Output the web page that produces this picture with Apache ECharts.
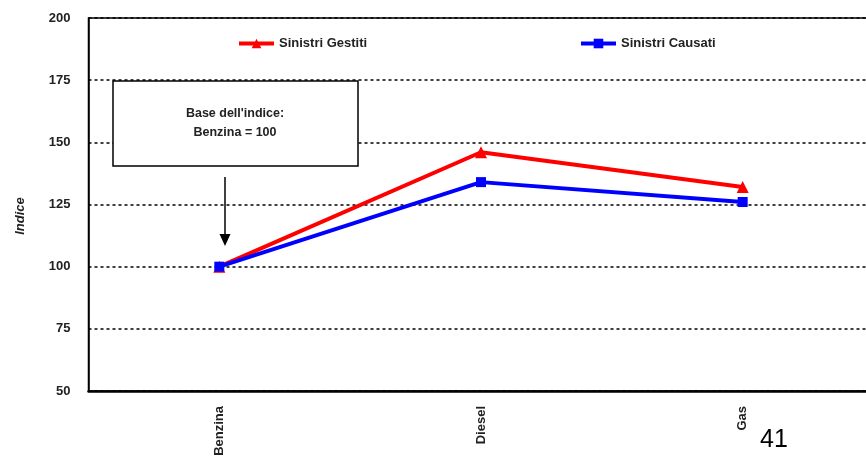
<!DOCTYPE html>
<html><head><meta charset="utf-8">
<script src="https://cdn.jsdelivr.net/npm/echarts@6/dist/echarts.min.js"></script>
<style>html,body{margin:0;padding:0;background:#fff}#c{width:866px;height:466px}</style>
</head><body><div id="c"></div>
<script>
const categories = ['Benzina', 'Diesel', 'Gas'];
const gestiti = [100, 146, 132];
const causati = [100, 134, 126];
const yTicks = [50, 75, 100, 125, 150, 175, 200];
const FONT = '"Liberation Sans", Arial, sans-serif';

const chart = echarts.init(document.getElementById('c'));
chart.setOption({
  animation: false,
  backgroundColor: '#fff',
  grid: {left: 88.5, top: 18, width: 785, height: 373, outerBoundsMode: 'none', containLabel: false,
         show: true, borderColor: '#000', borderWidth: 1.5, backgroundColor: 'transparent'},
  legend: [
    {data: ['Sinistri Gestiti'], left: 237, top: 37, padding: 0, itemWidth: 35, itemHeight: 12, itemGap: 4,
     lineStyle: {width: 4}, textStyle: {fontFamily: FONT, fontWeight: 'bold', fontSize: 13, color: '#222'}},
    {data: ['Sinistri Causati'], left: 579, top: 37, padding: 0, itemWidth: 35, itemHeight: 12, itemGap: 4,
     lineStyle: {width: 4}, textStyle: {fontFamily: FONT, fontWeight: 'bold', fontSize: 13, color: '#222'}}
  ],
  xAxis: {
    type: 'category', data: categories, boundaryGap: true,
    axisLine: {lineStyle: {color: '#000', width: 2.5}},
    axisTick: {show: false},
    axisLabel: {rotate: 90, margin: 15, fontFamily: FONT, fontWeight: 'bold', fontSize: 13, color: '#222'}
  },
  yAxis: {
    type: 'value', min: yTicks[0], max: yTicks[yTicks.length - 1], interval: 25,
    axisLine: {show: true, lineStyle: {color: '#000', width: 1.5}},
    axisTick: {show: false},
    axisLabel: {margin: 18, fontFamily: FONT, fontWeight: 'bold', fontSize: 13, color: '#222'},
    splitLine: {show: true, lineStyle: {color: '#000', width: 1.5, type: [3, 3]}}
  },
  series: [
    {name: 'Sinistri Gestiti', type: 'line', data: gestiti, symbol: 'triangle', symbolSize: 12,
     itemStyle: {color: '#ff0000'}, lineStyle: {color: '#ff0000', width: 4}, z: 3},
    {name: 'Sinistri Causati', type: 'line', data: causati, symbol: 'rect', symbolSize: 10,
     itemStyle: {color: '#0000ff'}, lineStyle: {color: '#0000ff', width: 4}, z: 4}
  ],
  graphic: [
    {type: 'rect', shape: {x: 113, y: 81, width: 245, height: 85}, style: {fill: '#fff', stroke: '#000', lineWidth: 1.5}, z: 10},
    {type: 'text', x: 235, y: 114, style: {text: "Base dell'indice:", font: 'bold 12.5px ' + FONT, fill: '#222', textAlign: 'center', textVerticalAlign: 'middle'}, z: 11},
    {type: 'text', x: 235, y: 133, style: {text: 'Benzina = 100', font: 'bold 12.5px ' + FONT, fill: '#222', textAlign: 'center', textVerticalAlign: 'middle'}, z: 11},
    {type: 'line', shape: {x1: 225, y1: 177, x2: 225, y2: 236}, style: {stroke: '#000', lineWidth: 1.5}, z: 10},
    {type: 'polygon', shape: {points: [[219.5, 234], [230.5, 234], [225, 246]]}, style: {fill: '#000'}, z: 10},
    {type: 'text', x: 20, y: 216, rotation: Math.PI / 2, style: {text: 'Indice', font: 'italic bold 13px ' + FONT, fill: '#222', textAlign: 'center', textVerticalAlign: 'middle'}, z: 11},
    {type: 'text', x: 760, y: 428, style: {text: '41', font: '25px ' + FONT, fill: '#000'}, z: 11}
  ]
});
</script></body></html>
